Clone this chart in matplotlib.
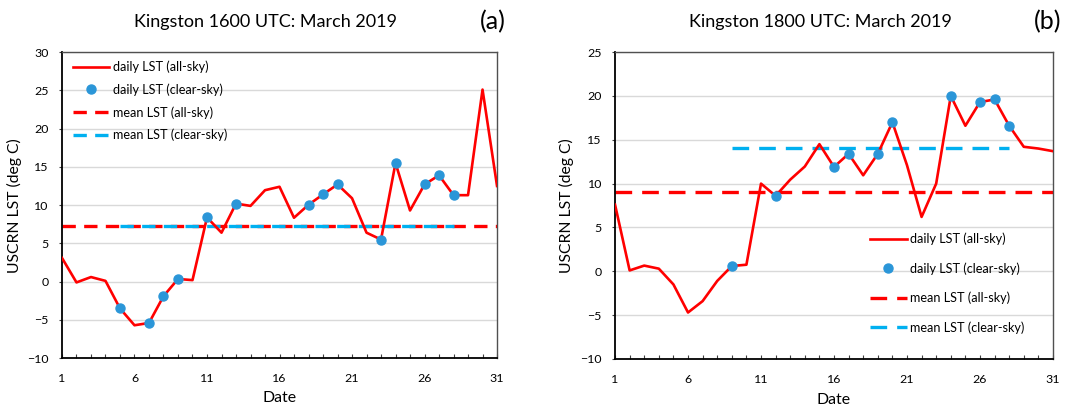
import matplotlib
matplotlib.use("Agg")
import matplotlib.pyplot as plt
import numpy as np

plt.rcParams['font.family'] = ['Lato', 'DejaVu Sans']

days = list(range(1, 32))

# Panel (a): Kingston 1600 UTC
lst_a = [3.1, -0.1, 0.6, 0.1, -3.5, -5.7, -5.4, -1.9, 0.35, 0.2,
         8.4, 6.4, 10.2, 9.9, 11.95, 12.4, 8.35, 10.05, 11.4, 12.7,
         10.9, 6.4, 5.5, 15.5, 9.3, 12.7, 13.9, 11.3, 11.3, 25.1, 12.5]
clear_days_a = [5, 7, 8, 9, 11, 13, 18, 19, 20, 23, 24, 26, 27, 28]
mean_all_a = 7.25
mean_clear_a = 7.25

# Panel (b): Kingston 1800 UTC
lst_b = [7.6, 0.1, 0.65, 0.3, -1.5, -4.7, -3.4, -1.1, 0.6, 0.75,
         10.0, 8.6, 10.45, 11.95, 14.5, 11.9, 13.4, 10.95, 13.4, 17.0,
         12.1, 6.2, 10.0, 20.0, 16.6, 19.3, 19.6, 16.6, 14.2, 14.0, 13.7]
clear_days_b = [9, 12, 16, 17, 19, 20, 24, 26, 27, 28]
mean_all_b = 9.0
mean_clear_b = 14.05

xticks = [1, 6, 11, 16, 21, 26, 31]

RED = '#FF0000'
DOT = '#2B96D8'
CYAN = '#00B0F0'

fig = plt.figure(figsize=(10.65, 4.07), dpi=100)
renderer = fig.canvas.get_renderer()


def fit(text, target_px, base=10.0):
    t = fig.text(0, 0, text, fontsize=base)
    w = t.get_window_extent(renderer).width
    t.remove()
    return base * target_px / w


FS_TITLE = fit('Kingston 1600 UTC: March 2019', 264)
FS_LEG = fit('daily LST (all-sky)', 95)
FS_TICK = fit('-10', 19)
FS_YLAB = fit('USCRN LST (deg C)', 134)
FS_XLAB = fit('Date', 34)
FS_TAG = 18

ax_a = fig.add_axes([0.0582, 0.120, 0.4085, 0.752])
ax_b = fig.add_axes([0.5775, 0.118, 0.4112, 0.754])


def draw(ax, lst, clear_days, mean_all, mean_clear, ylim, title, tag, dash,
         title_x, ylab_x, xlab_y, legend_kw):
    ax.set_xlim(1, 31)
    ax.set_ylim(*ylim)
    ax.set_yticks(np.arange(ylim[0], ylim[1] + 1, 5))
    for y in np.arange(ylim[0] + 5, ylim[1] + 1, 5):
        ax.axhline(y, color='#D9D9D9', lw=1.0, zorder=0)
    ax.plot(days, lst, color=RED, lw=1.9, label='daily LST (all-sky)', zorder=3)
    cvals = [lst[d - 1] for d in clear_days]
    ax.plot(clear_days, cvals, 'o', color=DOT, ms=6.5, ls='none',
            label='daily LST (clear-sky)', zorder=4)
    ax.plot([1, 31], [mean_all, mean_all], color=RED, lw=2.4,
            dashes=dash, label='mean LST (all-sky)', zorder=2)
    ax.plot([clear_days[0], clear_days[-1]], [mean_clear, mean_clear], color=CYAN,
            lw=2.4, dashes=dash, label='mean LST (clear-sky)', zorder=2)
    ax.set_xticks(xticks)
    ax.set_xticks(days, minor=True)
    ax.tick_params(axis='x', which='both', direction='in', length=3, width=0.8,
                   color='#404040', labelsize=FS_TICK, pad=11)
    ax.tick_params(axis='y', direction='out', length=2.5, width=0.8,
                   color='#404040', labelsize=FS_TICK, pad=7)
    for s in ['left', 'bottom']:
        ax.spines[s].set_color('#000000')
        ax.spines[s].set_linewidth(1.3)
    for s in ['top', 'right']:
        ax.spines[s].set_color('#505050')
        ax.spines[s].set_linewidth(1.0)
    ax.set_xlabel('Date', fontsize=FS_XLAB)
    ax.xaxis.set_label_coords(0.5, xlab_y)
    ax.set_ylabel('USCRN LST (deg C)', fontsize=FS_YLAB)
    ax.yaxis.set_label_coords(ylab_x, 0.5)
    ax.text(title_x, 1.098, title, transform=ax.transAxes, ha='center',
            va='center', fontsize=FS_TITLE)
    ax.text(1.02, 1.098, tag, transform=ax.transAxes, ha='right', va='center',
            fontsize=FS_TAG)
    leg = ax.legend(frameon=False, fontsize=FS_LEG, loc='upper left',
                    borderpad=0, borderaxespad=0, handletextpad=0.3,
                    handlelength=2.9, **legend_kw)
    return leg


draw(ax_a, lst_a, clear_days_a, mean_all_a, mean_clear_a, (-10, 30),
     'Kingston 1600 UTC: March 2019', '(a)', (4, 2.5), 0.467, -0.092, -0.108,
     dict(bbox_to_anchor=(0.025, 0.972), labelspacing=0.8))
draw(ax_b, lst_b, clear_days_b, mean_all_b, mean_clear_b, (-10, 25),
     'Kingston 1800 UTC: March 2019', '(b)', (5, 3), 0.468, -0.094, -0.111,
     dict(bbox_to_anchor=(0.582, 0.412), labelspacing=1.35))

fig.savefig('out.png', dpi=100)
